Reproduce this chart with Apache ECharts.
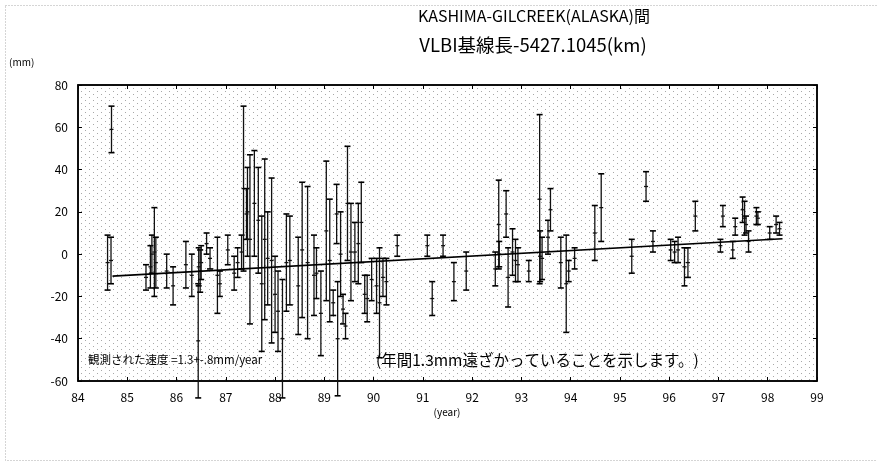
<!DOCTYPE html>
<html><head><meta charset="utf-8">
<script src="https://cdn.jsdelivr.net/npm/echarts@6/dist/echarts.min.js"></script>
<style>html,body{margin:0;padding:0;background:#fff}#c{width:877px;height:464px}</style>
</head><body><div id="c"></div>
<script>
// Observation epochs (year, 19xx), baseline length residuals (mm) and error half-widths (mm)
const years = [84.60,84.67,84.68,85.38,85.47,85.50,85.55,85.58,85.80,85.93,86.19,86.31,86.44,86.45,86.48,86.50,86.61,86.68,86.83,86.88,87.04,87.17,87.24,87.32,87.36,87.42,87.44,87.49,87.58,87.66,87.73,87.79,87.85,87.93,88.00,88.06,88.15,88.23,88.30,88.47,88.55,88.66,88.79,88.84,88.93,89.04,89.11,89.18,89.25,89.27,89.33,89.38,89.43,89.47,89.54,89.62,89.69,89.75,89.82,89.87,89.96,90.06,90.12,90.19,90.26,90.48,91.09,91.19,91.41,91.63,91.88,92.47,92.54,92.55,92.69,92.73,92.82,92.88,92.93,93.15,93.37,93.38,93.42,93.54,93.59,93.80,93.91,93.96,94.08,94.49,94.62,95.24,95.53,95.67,96.03,96.11,96.18,96.31,96.38,96.53,97.04,97.09,97.29,97.34,97.49,97.53,97.56,97.61,97.77,97.80,98.04,98.17,98.24];
const values = [-4,-3,59,-11,-6,0,1,-4,-8,-15,-5,-10,-41,-6,-8,-4,5,-2,-10,-14,2,-9,-4,1,31,19,20,7,24,16,-14,7,-2,-3,-19,-27,-40,-4,-3,-15,2,-4,-10,-9,-28,11,-3,-23,19,-40,0,-26,-34,24,1,1,5,15,-19,-21,-12,-15,-23,-11,-13,4,4,-21,4,-13,-8,-7,14,0,19,-11,1,-3,-5,-8,26,-1,-2,8,21,-4,-14,-8,-2,10,22,-1,32,6,2,1,2,-6,-4,18,4,18,2,13,21,17,14,6,18,17,10,14,12];
const errors = [13,11,11,6,10,9,21,12,8,9,11,10,27,9,10,8,5,5,18,6,7,8,7,8,39,12,21,40,25,25,32,38,22,39,18,19,28,23,21,23,32,36,19,12,20,33,29,6,14,27,20,7,6,27,23,14,19,19,9,11,10,13,26,9,11,5,5,8,5,9,9,8,21,6,11,14,11,10,8,5,40,12,10,8,10,12,23,5,5,13,16,8,7,5,5,5,6,9,7,7,3,5,4,4,6,8,4,5,4,3,3,4,3];
// Fitted trend (1.3 mm/year)
const trendYears = [84.7, 98.3];
const trendValues = [-10.4, 7.3];
// Axis ticks
const xTicks = [84,85,86,87,88,89,90,91,92,93,94,95,96,97,98,99];
const yTicks = [-60,-40,-20,0,20,40,60,80];

const titleLine1 = 'KASHIMA-GILCREEK(ALASKA)間';
const titleLine2 = 'VLBI基線長-5427.1045(km)';
const note1 = '観測された速度 =1.3+-.8mm/year';
const note2 = '(年間1.3mm遠ざかっていることを示します。)';

const barData = years.map((y,i)=>[y, values[i]-errors[i], values[i]+errors[i], values[i]]);
const trendData = trendYears.map((y,i)=>[y, trendValues[i]]);

// stipple pattern for plot background
const pc = document.createElement('canvas');
pc.width = 8; pc.height = 6;
const pctx = pc.getContext('2d');
pctx.fillStyle = '#ffffff'; pctx.fillRect(0,0,8,6);
pctx.fillStyle = '#a8a8a8';
pctx.fillRect(1,1,1,1); pctx.fillRect(5,4,1,1);

const FONT = '"Liberation Sans Narrow","Noto Sans CJK JP",sans-serif';
const axisCommon = {
  axisLine:{show:true,onZero:false,lineStyle:{color:'#000',width:1.5}},
  axisTick:{show:true,inside:true,length:4,lineStyle:{color:'#000'}},
  splitLine:{show:false}
};
const chart = echarts.init(document.getElementById('c'), null, {renderer:'canvas'});
chart.setOption({
  animation:false,
  backgroundColor:'#fff',
  grid:{left:78,right:60,top:85,bottom:83,show:true,borderColor:'#000',borderWidth:1.5,
        backgroundColor:{image:pc,repeat:'repeat'}},
  xAxis:[Object.assign({type:'value',min:84,max:99,interval:1,
    axisLabel:{color:'#000',fontSize:12,margin:10,fontFamily:FONT,
      formatter:v=>xTicks.indexOf(v)>=0?String(v):''}},axisCommon),
    Object.assign({type:'value',position:'top',min:84,max:99,interval:1,axisLabel:{show:false}},axisCommon)],
  yAxis:[Object.assign({type:'value',min:-60,max:80,interval:20,
    axisLabel:{color:'#000',fontSize:12,margin:10,fontFamily:FONT,
      formatter:v=>yTicks.indexOf(v)>=0?String(v):''}},axisCommon),
    Object.assign({type:'value',position:'right',min:-60,max:80,interval:20,axisLabel:{show:false}},axisCommon)],
  series:[
    {type:'custom',xAxisIndex:0,yAxisIndex:0,clip:false,data:barData,z:3,
     renderItem:function(params,api){
       const x = api.value(0);
       const lo = api.coord([x, api.value(1)]);
       const hi = api.coord([x, api.value(2)]);
       const c = api.coord([x, api.value(3)]);
       const w = 3;
       const st = {stroke:'#111',lineWidth:1.3};
       return {type:'group',children:[
         {type:'line',shape:{x1:lo[0],y1:lo[1],x2:hi[0],y2:hi[1]},style:st},
         {type:'line',shape:{x1:lo[0]-w,y1:lo[1],x2:lo[0]+w,y2:lo[1]},style:{stroke:'#000',lineWidth:1.6}},
         {type:'line',shape:{x1:hi[0]-w,y1:hi[1],x2:hi[0]+w,y2:hi[1]},style:{stroke:'#000',lineWidth:1.6}},
         {type:'line',shape:{x1:c[0]-2,y1:c[1],x2:c[0]+2,y2:c[1]},style:st}
       ]};
     }},
    {type:'line',data:trendData,symbol:'none',z:4,lineStyle:{color:'#000',width:1.6}}
  ],
  graphic:[
    {type:'rect',left:3,top:3,shape:{width:872,height:455},
     style:{fill:'none',stroke:'#aaa',lineWidth:1,lineDash:[1,2]}},
    {type:'text',x:534,y:16,style:{text:titleLine1,font:'16px "Noto Sans CJK JP",sans-serif',fill:'#000',textAlign:'center',textVerticalAlign:'middle'}},
    {type:'text',x:533,y:45,style:{text:titleLine2,font:'18.5px "Noto Sans CJK JP",sans-serif',fill:'#000',textAlign:'center',textVerticalAlign:'middle'}},
    {type:'text',x:9,y:62,style:{text:'(mm)',font:'10px "Noto Sans CJK JP",sans-serif',fill:'#000',textVerticalAlign:'middle'}},
    {type:'text',x:447,y:412,style:{text:'(year)',font:'10px "Noto Sans CJK JP",sans-serif',fill:'#000',textAlign:'center',textVerticalAlign:'middle'}},
    {type:'text',x:88,y:360,z:10,style:{text:note1,font:'11.5px "Noto Sans CJK JP",sans-serif',fill:'#000',textVerticalAlign:'middle'}},
    {type:'text',x:376,y:360,z:10,style:{text:note2,font:'15.5px "Noto Sans CJK JP",sans-serif',fill:'#000',textVerticalAlign:'middle'}}
  ]
});
</script></body></html>
